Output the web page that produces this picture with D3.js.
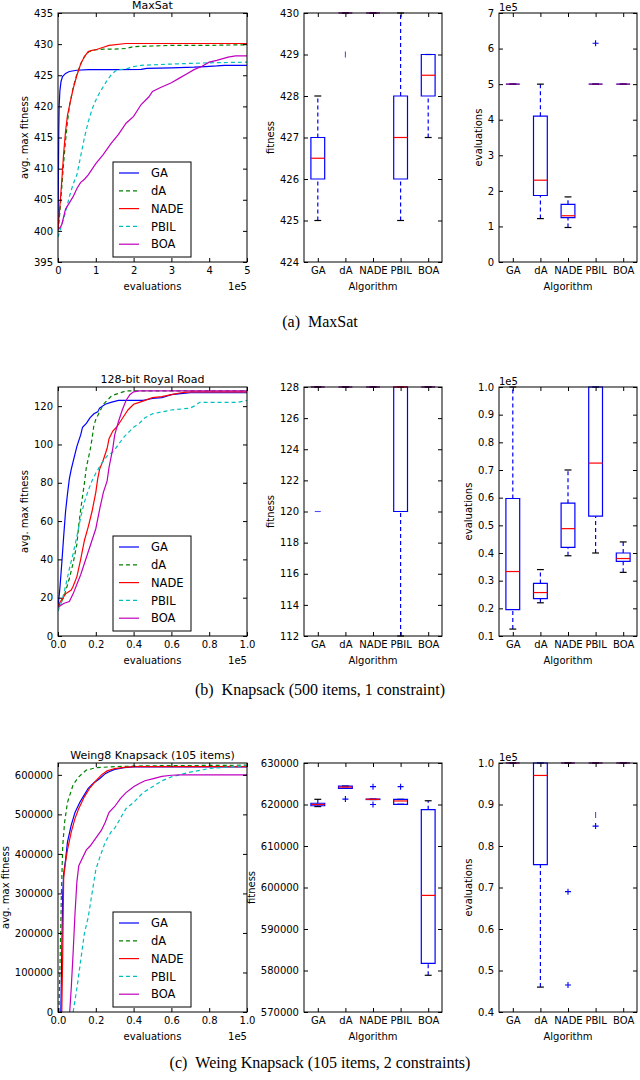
<!DOCTYPE html>
<html><head><meta charset="utf-8">
<script src="https://cdn.jsdelivr.net/npm/d3@7"></script>
<style>
body{margin:0;background:#fff}
text{font-family:"DejaVu Sans",sans-serif;fill:#000}
.cap{font-family:"Liberation Serif",serif}
</style>
</head><body>
<svg id="c" width="640" height="1080"></svg>
<script>
// ---------- data ----------
const algorithms = ["GA","dA","NADE","PBIL","BOA"];
const seriesColors = ["#0000ff","#008000","#ff0000","#00bfbf","#bf00bf"];
const seriesDashed = [false,true,false,true,false];

// MaxSat convergence (x in 1e5 evaluations)
const maxsatGA = [[0,400.3],[0.01,408],[0.02,416],[0.03,420],[0.05,422.5],[0.08,424],[0.12,424.8],[0.2,425.3],[0.3,425.6],[0.5,425.8],[0.8,425.9],[1.5,425.9],[2.2,425.95],[2.35,426.1],[3,426.2],[3.6,426.3],[3.9,426.4],[4.2,426.5],[4.4,426.6],[5,426.6]];
const maxsatDA = [[0,400],[0.05,403],[0.1,407],[0.15,411],[0.2,414.5],[0.25,417.5],[0.3,420],[0.4,423],[0.5,425.2],[0.6,426.8],[0.7,428],[0.8,428.7],[0.9,429],[1.0,429.1],[1.2,429.2],[1.5,429.2],[1.8,429.3],[2.0,429.6],[2.5,429.7],[3,429.8],[4,429.8],[5,429.9]];
const maxsatNADE = [[0,400.2],[0.05,404],[0.1,408],[0.15,412.5],[0.2,416],[0.25,418.5],[0.3,420],[0.4,422.8],[0.5,425],[0.6,426.8],[0.7,428],[0.8,428.8],[0.9,429],[1.0,429.1],[1.2,429.5],[1.35,429.8],[1.8,430.1],[5,430.1]];
const maxsatPBIL = [[0,399],[0.1,401],[0.2,403],[0.3,405.5],[0.4,407.5],[0.5,409],[0.6,412],[0.7,415],[0.8,417.5],[0.9,419.5],[1.0,421],[1.1,422.2],[1.2,423.2],[1.3,424.2],[1.4,425],[1.5,425.6],[1.6,425.9],[1.8,426],[2.0,426.4],[2.2,426.6],[3,426.8],[4,427],[5,427.1]];
const maxsatBOA = [[0,400.2],[0.05,400.5],[0.1,401],[0.2,403.5],[0.3,404.5],[0.4,405.5],[0.5,406.8],[0.6,407.8],[0.7,408.3],[0.8,409],[1.0,410.8],[1.2,412.3],[1.4,414],[1.6,415.5],[1.8,417.3],[2.0,418.4],[2.2,420.3],[2.4,421.5],[2.5,422.4],[2.7,423],[3.0,423.8],[3.2,424.5],[3.4,425.2],[3.6,425.9],[3.8,426.4],[4.0,427.1],[4.2,427.4],[4.5,427.9],[4.7,428.1],[5,428.1]];

// Royal Road convergence
const rrGA = [[0,15],[0.01,25],[0.02,38],[0.03,52],[0.04,65],[0.05,74],[0.06,82],[0.07,87],[0.08,91],[0.1,99],[0.12,105],[0.13,109],[0.15,111],[0.17,114],[0.19,116],[0.21,117],[0.22,119],[0.25,121],[0.28,122],[0.32,123],[0.45,123],[0.5,124],[0.55,124.5],[0.6,126],[0.65,126.5],[0.7,127],[1.0,127]];
const rrDA = [[0,15],[0.03,20],[0.06,30],[0.08,38],[0.1,48],[0.11,58],[0.12,66],[0.13,73],[0.14,80],[0.15,88],[0.17,97],[0.18,103],[0.19,110],[0.2,113],[0.22,117],[0.24,121],[0.26,123],[0.28,125],[0.3,126],[0.33,127],[0.36,128],[1.0,128]];
const rrNADE = [[0,16],[0.02,19],[0.04,22],[0.07,24],[0.08,26],[0.1,31],[0.12,40],[0.14,50],[0.16,57],[0.18,65],[0.2,75],[0.21,82],[0.22,87],[0.24,92],[0.26,98],[0.27,103],[0.29,107],[0.31,109],[0.33,112],[0.35,115],[0.37,118],[0.4,121],[0.43,122],[0.46,123],[0.5,124.5],[0.55,125],[0.6,126],[0.65,127],[0.7,127.5],[1.0,127.5]];
const rrPBIL = [[0,13],[0.02,18],[0.04,26],[0.06,35],[0.08,43],[0.1,52],[0.12,62],[0.14,70],[0.16,76],[0.18,81],[0.2,85],[0.23,90],[0.26,94],[0.29,96],[0.32,100],[0.35,104],[0.38,107],[0.4,109],[0.43,111],[0.46,114],[0.5,116],[0.55,117],[0.6,118],[0.7,119],[0.72,120],[0.75,122],[0.95,122],[1.0,123]];
const rrBOA = [[0,15],[0.03,17],[0.06,18],[0.08,22],[0.1,27],[0.12,32],[0.14,38],[0.16,44],[0.18,50],[0.2,56],[0.22,66],[0.24,75],[0.26,81],[0.27,88],[0.29,98],[0.3,105],[0.32,112],[0.34,118],[0.36,123],[0.38,126],[0.4,127.5],[0.43,128],[1.0,128]];

// Weing8 convergence
const wgGA = [[0.015,0],[0.02,150000],[0.025,300000],[0.03,350000],[0.04,385000],[0.05,430000],[0.07,473000],[0.09,505000],[0.115,530000],[0.14,550000],[0.16,566000],[0.19,580000],[0.22,590000],[0.25,603000],[0.27,608000],[0.3,614000],[0.35,618000],[0.4,620000],[1.0,620000]];
const wgDA = [[0.005,0],[0.012,150000],[0.018,300000],[0.025,420000],[0.035,480000],[0.05,530000],[0.08,575000],[0.11,595000],[0.15,612000],[0.2,618000],[0.3,621000],[0.5,623000],[1.0,624500]];
const wgNADE = [[0.02,0],[0.025,150000],[0.03,340000],[0.04,380000],[0.05,410000],[0.07,455000],[0.09,490000],[0.11,515000],[0.14,545000],[0.17,568000],[0.2,585000],[0.23,600000],[0.26,610000],[0.3,616000],[0.35,619000],[0.4,621000],[1.0,621000]];
const wgPBIL = [[0.08,0],[0.1,60000],[0.12,130000],[0.14,200000],[0.16,240000],[0.18,300000],[0.2,360000],[0.22,390000],[0.25,430000],[0.28,455000],[0.3,465000],[0.33,490000],[0.36,515000],[0.4,530000],[0.45,555000],[0.5,570000],[0.55,585000],[0.6,595000],[0.65,601000],[0.7,607000],[0.8,616000],[0.9,620000],[1.0,623000]];
const wgBOA = [[0.062,0],[0.07,60000],[0.08,150000],[0.09,250000],[0.1,330000],[0.11,370000],[0.13,390000],[0.15,410000],[0.17,420000],[0.2,440000],[0.23,460000],[0.25,480000],[0.27,505000],[0.3,520000],[0.33,540000],[0.36,555000],[0.4,570000],[0.43,578000],[0.46,585000],[0.5,590000],[0.55,596000],[0.6,599000],[0.65,600000],[1.0,600000]];

// Box statistics: [whisker low, q1, median, q3, whisker high]
const maxsatFitBox = [[425,426,426.5,427,428],[430,430,430,430,430],[430,430,430,430,430],[425,426,427,428,430],[427,428,428.5,429,429]];
const maxsatFitMarks = [[2,429,"|"]];
const maxsatEvalBox = [[5,5,5,5,5],[1.22,1.87,2.3,4.1,5.0],[0.97,1.25,1.3,1.62,1.83],[5,5,5,5,5],[5,5,5,5,5]];
const maxsatEvalFliers = [[4,6.15]];

const rrFitBox = [[128,128,128,128,128],[128,128,128,128,128],[128,128,128,128,128],[112,120,128,128,128],[128,128,128,128,128]];
const rrFitMarks = [[1,120,"-"]];
const rrEvalBox = [[0.125,0.195,0.333,0.597,1.0],[0.22,0.235,0.257,0.29,0.34],[0.39,0.42,0.488,0.58,0.70],[0.40,0.533,0.725,1.0,1.0],[0.33,0.37,0.38,0.40,0.44]];

const wgFitBox = [[619500,619700,620000,620300,621250],[623900,623900,624200,624450,624450],[621200,621200,621250,621300,621300],[620050,620050,620850,621250,621250],[578850,581730,598100,618750,620900]];
const wgFitFliers = [[2,621300],[3,624300],[3,620000],[4,624300]];
const wgEvalBox = [[1,1,1,1,1],[0.46,0.755,0.97,1.0,1.0],[1,1,1,1,1],[1,1,1,1,1],[1,1,1,1,1]];
const wgEvalFliers = [[3,0.69],[3,0.465],[4,0.848]];
const wgEvalMarks = [[4,0.875,"|"]];

// Tick values
const maxsatYTicks = [395,400,405,410,415,420,425,430,435];
const maxsatXTicks = [0,1,2,3,4,5];
const maxsatFitTicks = [424,425,426,427,428,429,430];
const maxsatEvalTicks = [0,1,2,3,4,5,6,7];
const rrYTicks = [0,20,40,60,80,100,120];
const unitXTicks = [0,0.2,0.4,0.6,0.8,1.0];
const rrFitTicks = [112,114,116,118,120,122,124,126,128];
const rrEvalTicks = [0.1,0.2,0.3,0.4,0.5,0.6,0.7,0.8,0.9,1.0];
const wgYTicks = [0,100000,200000,300000,400000,500000,600000];
const wgFitTicks = [570000,580000,590000,600000,610000,620000,630000];
const wgEvalTicks = [0.4,0.5,0.6,0.7,0.8,0.9,1.0];

const captions = ["(a)\u2002MaxSat","(b)\u2002Knapsack (500 items, 1 constraint)","(c)\u2002Weing Knapsack (105 items, 2 constraints)"];
const titles = ["MaxSat","128-bit Royal Road","Weing8 Knapsack (105 items)"];

// ---------- drawing ----------
const svg = d3.select("#c");
const LINE_X = [58,247], BOX1_X = [304,442], BOX2_X = [499,637];
const ROW_TOP = [13,387,763], PH = 249;
const CAP_Y = [322,690,1063];
let clipId = 0;

function drawAxes(g, x, y, xTicks, xFmt, yTicks, yFmt, x0, x1, y0, y1) {
  const st = sel => {
    sel.select(".domain").remove();
    sel.selectAll("line").attr("stroke","#000").attr("stroke-width",1);
    sel.selectAll("text").attr("font-size",10).attr("font-family","DejaVu Sans").attr("fill","#000");
  };
  g.append("g").attr("transform",`translate(0,${y1})`)
    .call(d3.axisBottom(x).tickValues(xTicks).tickFormat(xFmt).tickSize(-4).tickPadding(5)).call(st);
  g.append("g").attr("transform",`translate(0,${y0})`)
    .call(d3.axisTop(x).tickValues(xTicks).tickFormat("").tickSize(-4)).call(st);
  const ly = g.append("g").attr("transform",`translate(${x0},0)`)
    .call(d3.axisLeft(y).tickValues(yTicks).tickFormat(yFmt).tickSize(-4).tickPadding(5)).call(st);
  g.append("g").attr("transform",`translate(${x1},0)`)
    .call(d3.axisRight(y).tickValues(yTicks).tickFormat("").tickSize(-4)).call(st);
  g.append("rect").attr("x",x0).attr("y",y0).attr("width",x1-x0).attr("height",y1-y0)
    .attr("fill","none").attr("stroke","#000").attr("stroke-width",1);
  return ly;
}

function yLabel(g, ly, x0, text, y0, y1) {
  let minX = 0;
  ly.selectAll("text").each(function(){ const b=this.getBBox(); minX=Math.min(minX,b.x); });
  g.append("text").attr("transform",`translate(${x0+minX-6},${(y0+y1)/2}) rotate(-90)`)
    .attr("text-anchor","middle").attr("font-size",10).text(text);
}

function makeClip(x0,y0,x1,y1){
  const id = "clip"+(clipId++);
  svg.append("clipPath").attr("id",id).append("rect").attr("x",x0).attr("y",y0).attr("width",x1-x0).attr("height",y1-y0);
  return id;
}

function linePanel(row, series, xDomain, xTicks, xFmt, yDomain, yTicks, yFmt) {
  const y0 = ROW_TOP[row], y1 = y0+PH, [x0,x1] = LINE_X;
  const g = svg.append("g");
  const x = d3.scaleLinear().domain(xDomain).range([x0,x1]);
  const y = d3.scaleLinear().domain(yDomain).range([y1,y0]);
  const cid = makeClip(x0,y0,x1,y1);
  const pg = g.append("g").attr("clip-path",`url(#${cid})`);
  const line = d3.line().x(d=>x(d[0])).y(d=>y(d[1]));
  series.forEach((s,i)=>{
    pg.append("path").attr("d",line(s)).attr("fill","none")
      .attr("stroke",seriesColors[i]).attr("stroke-width",1.2)
      .attr("stroke-dasharray",seriesDashed[i]?"4,3":null);
  });
  const ly = drawAxes(g,x,y,xTicks,xFmt,yTicks,yFmt,x0,x1,y0,y1);
  yLabel(g, ly, x0, "avg. max fitness", y0, y1);
  g.append("text").attr("x",(x0+x1)/2).attr("y",y0-4).attr("text-anchor","middle").attr("font-size",11).text(titles[row]);
  g.append("text").attr("x",(x0+x1)/2).attr("y",y1+28).attr("text-anchor","middle").attr("font-size",10).text("evaluations");
  g.append("text").attr("x",x1).attr("y",y1+28).attr("text-anchor","end").attr("font-size",10).text("1e5");
  // legend
  const lg = g.append("g");
  lg.append("rect").attr("x",113).attr("y",y0+149).attr("width",78).attr("height",95)
    .attr("fill","#fff").attr("stroke","#000").attr("stroke-width",1);
  algorithms.forEach((a,i)=>{
    const ly2 = y0+160+i*17.8;
    lg.append("line").attr("x1",119).attr("x2",139).attr("y1",ly2).attr("y2",ly2)
      .attr("stroke",seriesColors[i]).attr("stroke-width",1.2)
      .attr("stroke-dasharray",seriesDashed[i]?"4,3":null);
    lg.append("text").attr("x",151).attr("y",ly2).attr("dy","0.36em").attr("font-size",11.5).text(a);
  });
}

function boxPanel(row, xr, stats, yDomain, yTicks, yFmt, ylab, fliers, marks, offset) {
  const y0 = ROW_TOP[row], y1 = y0+PH, [x0,x1] = xr;
  const g = svg.append("g");
  const x = d3.scaleLinear().domain([0.5,5.5]).range([x0,x1]);
  const y = d3.scaleLinear().domain(yDomain).range([y1,y0]);
  const cid = makeClip(x0,y0-1,x1,y1+1);
  const pg = g.append("g").attr("clip-path",`url(#${cid})`);
  const bw = x(1.25)-x(1), cw = x(1.125)-x(1);
  stats.forEach((s,i)=>{
    const cx = x(i+1);
    const [lo,q1,md,q3,hi] = s;
    if (q1>lo) pg.append("line").attr("x1",cx).attr("x2",cx).attr("y1",y(lo)).attr("y2",y(q1))
      .attr("stroke","#0000ff").attr("stroke-width",1.2).attr("stroke-dasharray","4,3");
    if (hi>q3) pg.append("line").attr("x1",cx).attr("x2",cx).attr("y1",y(q3)).attr("y2",y(hi))
      .attr("stroke","#0000ff").attr("stroke-width",1.2).attr("stroke-dasharray","4,3");
    [lo,hi].forEach(v=>pg.append("line").attr("x1",cx-cw).attr("x2",cx+cw).attr("y1",y(v)).attr("y2",y(v))
      .attr("stroke","#000").attr("stroke-width",1.2));
    pg.append("path").attr("d",`M${cx-bw},${y(q3)}H${cx+bw}V${y(q1)}H${cx-bw}Z`)
      .attr("fill","none").attr("stroke","#0000ff").attr("stroke-width",1.2);
    pg.append("line").attr("x1",cx-bw).attr("x2",cx+bw).attr("y1",y(md)).attr("y2",y(md))
      .attr("stroke","#ff0000").attr("stroke-width",1.2).attr("stroke-opacity",q1===q3?0.5:1);
  });
  (fliers||[]).forEach(([c,v])=>{
    const cx=x(c), cy=y(v);
    pg.append("path").attr("d",`M${cx-3},${cy}H${cx+3}M${cx},${cy-3}V${cy+3}`).attr("stroke","#0000ff").attr("stroke-width",1.1);
  });
  (marks||[]).forEach(([c,v,sh])=>{
    const cx=x(c), cy=y(v);
    const d = sh==="|" ? `M${cx},${cy-3}V${cy+3}` : `M${cx-3},${cy}H${cx+3}`;
    pg.append("path").attr("d",d).attr("stroke","#4d4dff").attr("stroke-width",1.1);
  });
  const ly = drawAxes(g,x,y,[1,2,3,4,5],i=>algorithms[i-1],yTicks,yFmt,x0,x1,y0,y1);
  yLabel(g, ly, x0, ylab, y0, y1);
  g.append("text").attr("x",(x0+x1)/2).attr("y",y1+28).attr("text-anchor","middle").attr("font-size",10).text("Algorithm");
  if (offset) g.append("text").attr("x",x0).attr("y",y0-2.5).attr("font-size",10).text(offset);
}

const f0 = d3.format("d"), f1 = d3.format(".1f");

linePanel(0,[maxsatGA,maxsatDA,maxsatNADE,maxsatPBIL,maxsatBOA],[0,5],maxsatXTicks,f0,[395,435],maxsatYTicks,f0);
boxPanel(0,BOX1_X,maxsatFitBox,[424,430],maxsatFitTicks,f0,"fitness",null,maxsatFitMarks,null);
boxPanel(0,BOX2_X,maxsatEvalBox,[0,7],maxsatEvalTicks,f0,"evaluations",maxsatEvalFliers,null,"1e5");

linePanel(1,[rrGA,rrDA,rrNADE,rrPBIL,rrBOA],[0,1],unitXTicks,f1,[0,130],rrYTicks,f0);
boxPanel(1,BOX1_X,rrFitBox,[112,128],rrFitTicks,f0,"fitness",null,rrFitMarks,null);
boxPanel(1,BOX2_X,rrEvalBox,[0.1,1.0],rrEvalTicks,f1,"evaluations",null,null,"1e5");

linePanel(2,[wgGA,wgDA,wgNADE,wgPBIL,wgBOA],[0,1],unitXTicks,f1,[0,630000],wgYTicks,f0);
boxPanel(2,BOX1_X,wgFitBox,[570000,630000],wgFitTicks,f0,"fitness",wgFitFliers,null,null);
boxPanel(2,BOX2_X,wgEvalBox,[0.4,1.0],wgEvalTicks,f1,"evaluations",wgEvalFliers,wgEvalMarks,"1e5");

captions.forEach((c,i)=>{
  svg.append("text").attr("class","cap").attr("x",320).attr("y",CAP_Y[i]+5)
    .attr("text-anchor","middle").attr("font-size",16).attr("font-family","Liberation Serif").text(c);
});
</script>
</body></html>
